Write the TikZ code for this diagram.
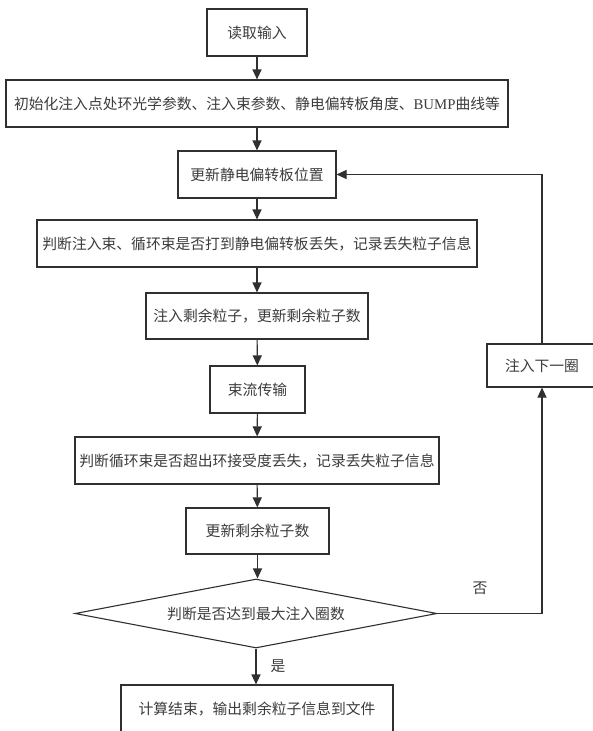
\documentclass[tikz,border=0pt]{standalone}
\usepackage{fontspec}
\setmainfont{Liberation Serif}
\newfontfamily\cjk{Noto Sans CJK SC}
\newfontfamily\latn{Liberation Serif}
\usetikzlibrary{arrows.meta,shapes.geometric}
\definecolor{ln}{HTML}{303030}
\definecolor{tx}{HTML}{3C3C3C}
\begin{document}
\begin{tikzpicture}[x=1pt,y=-1pt,
  box/.style={draw=ln, line width=1.1pt, fill=white, inner sep=0pt, text=tx,
              font=\cjk\fontsize{14.8pt}{18pt}\selectfont, minimum height=47pt},
  decision/.style={box, diamond, aspect=5.25, minimum width=362pt, minimum height=69pt},
  lbl/.style={text=tx, font=\cjk\fontsize{14.8pt}{18pt}\selectfont, inner sep=0pt},
  arr/.style={draw=ln, line width=1.1pt, -{Triangle[length=10pt,width=9pt]}}]
\useasboundingbox (0,0) rectangle (593,731);
\fill[white] (0,0) rectangle (593,731);

\node[box, minimum width=100pt] (n1) at (257,32.5) {读取输入};
\node[box, minimum width=502pt] (n2) at (257,103.5) {初始化注入点处环光学参数、注入束参数、静电偏转板角度、{\latn BUMP}曲线等};
\node[box, minimum width=158pt] (n3) at (257,174.5) {更新静电偏转板位置};
\node[box, minimum width=440pt] (n4) at (257,243.5) {判断注入束、循环束是否打到静电偏转板丢失，记录丢失粒子信息};
\node[box, minimum width=222pt, minimum height=46pt] (n5) at (257,316) {注入剩余粒子，更新剩余粒子数};
\node[box, minimum width=95pt] (n6) at (257.5,389.5) {束流传输};
\node[box, minimum width=364pt] (n7) at (257,460.5) {判断循环束是否超出环接受度丢失，记录丢失粒子信息};
\node[box, minimum width=143pt, minimum height=46pt] (n8) at (257.5,531) {更新剩余粒子数};
\node[decision] (d) at (256,613.5) {判断是否达到最大注入圈数};
\node[box, minimum width=272pt, minimum height=48pt] (n9) at (257,709) {计算结束，输出剩余粒子信息到文件};
\node[box, minimum width=110pt, minimum height=43pt] (n10) at (542,365.5) {注入下一圈};

\draw[arr] (n1) -- (n2);
\draw[arr] (n2) -- (n3);
\draw[arr] (n3) -- (n4);
\draw[arr] (n4) -- (n5);
\draw[arr] (n5) -- (n6);
\draw[arr] (n6) -- (n7);
\draw[arr] (n7) -- (n8);
\draw[arr] (n8.south) -- (n8.south |- d.north);
\draw[arr] (d.south) -- (d.south |- n9.north);
\draw[arr] (d.east) -| (n10.south);
\draw[arr] (n10.north) |- (n3.east);

\node[lbl] (no) at (480,588) {否};
\node[lbl] (yes) at (278,666) {是};
\end{tikzpicture}
\end{document}
